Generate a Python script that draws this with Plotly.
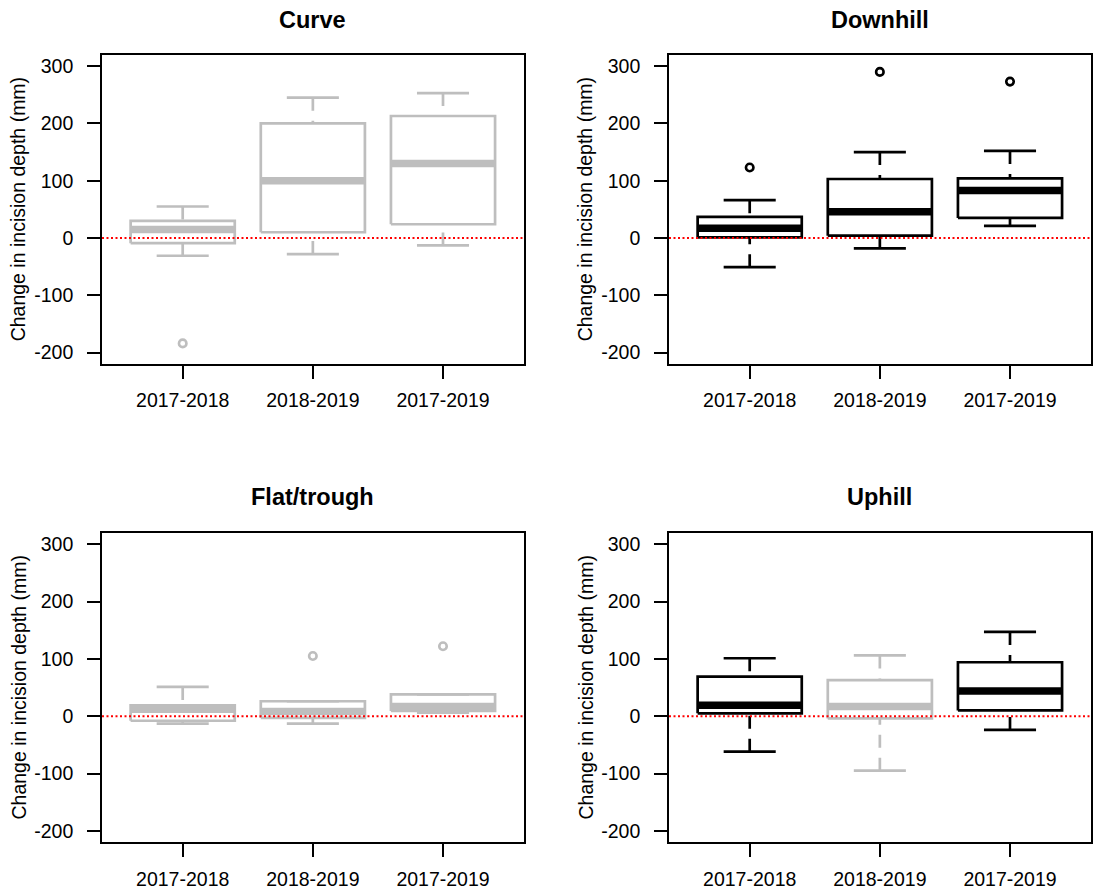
import plotly.graph_objects as go

# ---------------- data ----------------
categories = ["2017-2018", "2018-2019", "2017-2019"]
panel_titles = ["Curve", "Downhill", "Flat/trough", "Uphill"]
y_title = "Change in incision depth (mm)"
y_ticks = [-200, -100, 0, 100, 200, 300]

curve_lower = [-31, -28, -13]
curve_q1 = [-9, 10, 24]
curve_median = [15, 100, 130]
curve_q3 = [30, 200, 213]
curve_upper = [55, 245, 253]
curve_outliers = [[-184], [], []]
curve_significant = [False, False, False]

downhill_lower = [-51, -18, 21]
downhill_q1 = [1, 4, 35]
downhill_median = [17, 46, 83]
downhill_q3 = [37, 103, 104]
downhill_upper = [66, 150, 152]
downhill_outliers = [[123], [290], [273]]
downhill_significant = [True, True, True]

flat_lower = [-13, -13, 6]
flat_q1 = [-8, -3, 9]
flat_median = [12, 8, 17]
flat_q3 = [19, 26, 38]
flat_upper = [51, 26, 38]
flat_outliers = [[], [105], [122]]
flat_significant = [False, False, False]

uphill_lower = [-62, -95, -24]
uphill_q1 = [5, -4, 10]
uphill_median = [19, 17, 44]
uphill_q3 = [69, 63, 94]
uphill_upper = [101, 106, 147]
uphill_outliers = [[], [], []]
uphill_significant = [True, False, True]

panels = [
    (curve_lower, curve_q1, curve_median, curve_q3, curve_upper, curve_outliers, curve_significant),
    (downhill_lower, downhill_q1, downhill_median, downhill_q3, downhill_upper, downhill_outliers, downhill_significant),
    (flat_lower, flat_q1, flat_median, flat_q3, flat_upper, flat_outliers, flat_significant),
    (uphill_lower, uphill_q1, uphill_median, uphill_q3, uphill_upper, uphill_outliers, uphill_significant),
]

# ---------------- style / layout ----------------
W, H = 1095, 894
FONT = "Liberation Sans, Arial, sans-serif"
TICK_FS = 19.5
TITLE_FS = 23.5
BOX_HALF = 0.4
CAP_HALF = 0.2
BOX_LW = 2.7
MED_LW = 7.5
GREY = "#BEBEBE"
WHISK_DASH = "13px,10px"

# pixel geometry of the plot frames (left, right, top, bottom)
frames = [
    (102, 523.7, 54.7, 364.0),
    (669, 1090.7, 54.7, 364.0),
    (102, 523.7, 532.7, 842.3),
    (669, 1090.7, 532.7, 842.3),
]
title_y_px = [20, 20, 497, 497]
ytitle_x_px = [18, 585, 18, 585]

fig = go.Figure()
layout = dict(
    width=W, height=H, autosize=False,
    margin=dict(l=0, r=0, t=0, b=0),
    paper_bgcolor="white", plot_bgcolor="white",
    showlegend=False,
    font=dict(family=FONT, color="black", size=TICK_FS),
    annotations=[], shapes=[],
)

for p, (lo, q1, med, q3, up, outs, sig) in enumerate(panels):
    n = p + 1
    xa = "x" if n == 1 else f"x{n}"
    ya = "y" if n == 1 else f"y{n}"
    for i in range(len(categories)):
        x = i + 1
        col = "black" if sig[i] else GREY
        # whiskers (dashed, drawn from staple towards box)
        fig.add_trace(go.Scatter(
            x=[x, x, None, x, x], y=[up[i], q3[i], None, lo[i], q1[i]],
            mode="lines", line=dict(color=col, width=BOX_LW, dash=WHISK_DASH),
            xaxis=xa, yaxis=ya, hoverinfo="skip"))
        # staples
        fig.add_trace(go.Scatter(
            x=[x - CAP_HALF, x + CAP_HALF, None, x - CAP_HALF, x + CAP_HALF],
            y=[up[i], up[i], None, lo[i], lo[i]],
            mode="lines", line=dict(color=col, width=BOX_LW),
            xaxis=xa, yaxis=ya, hoverinfo="skip"))
        # box
        fig.add_trace(go.Scatter(
            x=[x - BOX_HALF, x + BOX_HALF, x + BOX_HALF, x - BOX_HALF, x - BOX_HALF],
            y=[q1[i], q1[i], q3[i], q3[i], q1[i]],
            mode="lines", line=dict(color=col, width=BOX_LW),
            xaxis=xa, yaxis=ya, hoverinfo="skip"))
        # median
        fig.add_trace(go.Scatter(
            x=[x - BOX_HALF, x + BOX_HALF], y=[med[i], med[i]],
            mode="lines", line=dict(color=col, width=MED_LW),
            xaxis=xa, yaxis=ya, hoverinfo="skip"))
        # outliers
        if outs[i]:
            fig.add_trace(go.Scatter(
                x=[x] * len(outs[i]), y=outs[i], mode="markers",
                marker=dict(symbol="circle-open", size=7.5, color=col,
                            line=dict(color=col, width=2.6)),
                xaxis=xa, yaxis=ya, hoverinfo="skip"))

    l, r, t, b = frames[p]
    axis_common = dict(showgrid=False, zeroline=False, showline=True, mirror=True,
                       linecolor="black", linewidth=1.6, ticks="outside",
                       ticklen=13, tickwidth=1.6, tickcolor="black",
                       tickfont=dict(family=FONT, size=TICK_FS, color="black"))
    layout["xaxis" if n == 1 else f"xaxis{n}"] = dict(
        domain=[l / W, r / W], anchor=ya, range=[0.38, 3.62],
        tickmode="array", tickvals=[1, 2, 3], ticktext=categories,
        ticklabelstandoff=5, fixedrange=True, **axis_common)
    layout["yaxis" if n == 1 else f"yaxis{n}"] = dict(
        domain=[(H - b) / H, (H - t) / H], anchor=xa, range=[-220, 320],
        tickmode="array", tickvals=y_ticks, ticktext=[str(v) for v in y_ticks],
        ticklabelstandoff=10, fixedrange=True, **axis_common)

    # red dotted zero line
    layout["shapes"].append(dict(
        type="line", xref=f"{xa} domain", yref=ya, x0=0, x1=1, y0=0, y1=0,
        line=dict(color="#FF0000", width=2, dash="2px,2.5px"), layer="above"))

    # panel title
    layout["annotations"].append(dict(
        text=f"<b>{panel_titles[p]}</b>", xref="paper", yref="paper",
        x=(l + r) / 2 / W, y=(H - title_y_px[p]) / H, xanchor="center", yanchor="middle",
        showarrow=False, font=dict(family=FONT, size=TITLE_FS, color="black")))
    # y-axis title
    layout["annotations"].append(dict(
        text=y_title, xref="paper", yref="paper", textangle=-90,
        x=ytitle_x_px[p] / W, y=(H - (t + b) / 2) / H, xanchor="center", yanchor="middle",
        showarrow=False, font=dict(family=FONT, size=TICK_FS, color="black")))

fig.update_layout(**layout)
fig.write_html("out.html")
